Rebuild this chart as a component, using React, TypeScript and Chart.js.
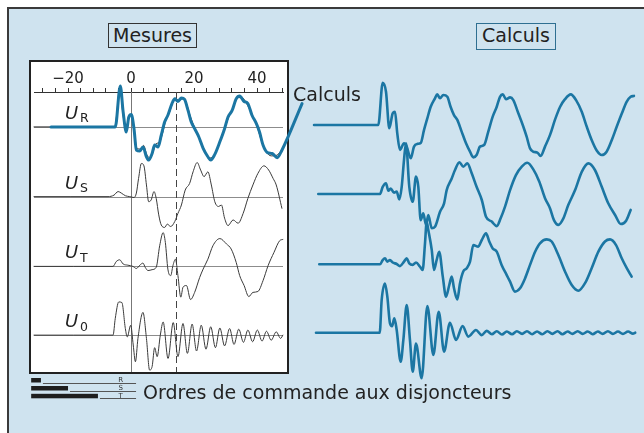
import React, { useEffect, useRef } from 'react';
import { Chart, registerables } from 'chart.js';

Chart.register(...registerables);

type Pt = [number, number];

// ---- axis / markers (ms) ----
const TICK_LABELS = [-20, 0, 20, 40];
const TICK_STEP = 4;
const MARKER_SOLID = 0;
const MARKER_DASHED = 14.4;
const PHASE_SUBS = ['R', 'S', 'T', '0'];

// ---- Mesures (left panel), time in ms, value in p.u. ----
const UR_MEAS: Pt[] = [[-30.8,0],[-5.2,0],[-3.5,1.3],[-2.6,0.45],[-1.6,-0.1],[-0.7,0.36],[0.2,0.38],[1.0,-0.1],[1.8,-0.7],[3.0,-0.74],[4.0,-0.62],[5.0,-0.93],[6.0,-1.04],[7.0,-0.84],[8.0,-0.56],[9.0,-0.52],[10.0,-0.22],[11.0,0.2],[12.2,0.48],[13.2,0.8],[14.2,0.96],[15.2,0.88],[16.3,0.94],[17.5,0.8],[19.0,0.3],[20.5,-0.1],[22.0,-0.45],[23.5,-0.82],[25.0,-1.04],[26.5,-0.95],[28.0,-0.55],[29.5,-0.12],[31.0,0.32],[32.5,0.66],[34.0,0.98],[35.5,0.96],[37.0,0.72],[38.5,0.4],[40.0,0.02],[41.5,-0.5],[43.0,-0.84],[44.5,-0.97],[46.0,-0.96],[47.5,-0.82],[48.2,-0.7]];
const UR_CALC_OVERLAY: Pt[] = [[-25.4,0],[-5.0,0],[-3.4,1.37],[-2.5,0.5],[-1.5,-0.17],[-0.7,0.33],[0.1,0.41],[0.95,-0.06],[1.7,-0.78],[2.75,-0.81],[3.8,-0.67],[4.9,-1.0],[5.6,-1.11],[6.7,-0.89],[7.5,-0.61],[8.6,-0.67],[9.6,-0.28],[10.7,0.17],[11.7,0.39],[13.0,0.78],[13.9,0.94],[14.9,0.85],[16.0,0.97],[17.0,0.92],[18.1,0.55],[19.1,0.17],[20.2,-0.06],[21.5,-0.33],[22.9,-0.72],[24.4,-1.0],[25.3,-1.11],[26.6,-0.92],[28.2,-0.5],[29.7,-0.06],[30.8,0.33],[32.1,0.55],[33.4,0.94],[34.5,1.03],[35.9,0.85],[37.1,0.78],[38.4,0.39],[39.8,0.11],[40.8,-0.17],[41.9,-0.61],[43.3,-0.86],[44.8,-0.89],[46.4,-1.03],[47.9,-0.78],[54.3,0.78]];
const US_MEAS: Pt[] = [[-30.8,0],[-7.3,0],[-5.4,0.05],[-4.1,0.17],[-3.1,0.12],[-1.8,0.03],[-0.4,0],[0.95,-0.03],[1.7,0.12],[2.4,0.61],[3.3,1.11],[4.1,1.03],[4.9,0.39],[5.6,-0.17],[6.4,-0.11],[7.3,0.17],[8.0,-0.06],[8.8,-0.61],[9.6,-0.95],[10.7,-1.03],[11.5,-0.92],[12.6,-1.0],[13.9,-0.83],[14.9,-0.56],[16.0,-0.28],[17.2,0.22],[18.6,0.44],[19.7,0.83],[21.0,1.14],[22.1,0.89],[23.2,0.67],[24.4,0.83],[25.5,0.39],[26.6,-0.17],[27.8,-0.33],[28.7,-0.28],[29.7,-0.72],[30.8,-0.97],[32.4,-0.78],[34.0,-0.89],[35.6,-0.56],[37.1,-0.06],[38.7,0.39],[40.3,0.78],[42.2,1.03],[43.7,0.89],[45.1,0.61],[46.1,0.39],[47.9,-0.39]];
const UT_MEAS: Pt[] = [[-30.8,0],[-5.7,0],[-4.7,0.16],[-3.6,0.22],[-2.5,0.08],[-1.0,0.04],[0.6,0],[1.7,-0.07],[2.8,0.04],[3.8,0.11],[4.5,-0.03],[5.4,-0.14],[6.7,-0.11],[8.0,-0.03],[9.1,0.69],[10.2,1.13],[10.9,0.8],[11.7,-0.09],[12.6,-0.31],[13.3,0.02],[14.1,0.24],[14.9,-0.31],[15.8,-1.03],[16.5,-0.7],[17.6,-0.64],[18.9,-1.11],[20.2,-0.87],[21.8,-0.37],[22.9,-0.09],[24.4,0.24],[26.0,0.69],[28.2,0.93],[30.3,0.75],[31.8,0.58],[33.4,0.13],[34.5,-0.31],[35.9,-0.64],[37.4,-1.01],[38.7,-0.87],[40.3,-0.84],[41.9,-0.48],[43.5,0.02],[45.4,0.47],[47.2,0.86],[48.2,0.9]];
const U0_MEAS: Pt[] = [[-30.8,0],[-5.7,0],[-5.0,0.56],[-3.9,1.11],[-2.9,1.09],[-1.8,0.22],[-1.2,-0.06],[-0.1,0.33],[0.7,-0.33],[1.4,-0.89],[2.2,-0.11],[3.8,0.76],[4.9,-0.11],[5.9,-1.17],[6.7,-1.05],[7.5,-0.42],[8.3,-0.72],[9.3,0],[10.2,0.44],[11.75,-0.78],[13.4,0.42],[14.9,-0.72],[16.5,0.39],[17.9,-0.61],[19.4,0.37],[20.8,-0.53],[22.3,0.33],[23.8,-0.47],[25.3,0.28],[26.8,-0.42],[28.2,0.24],[29.7,-0.36],[31.3,0.22],[32.7,-0.31],[34.2,0.2],[35.7,-0.24],[37.1,0.17],[38.6,-0.22],[40.1,0.17],[41.6,-0.2],[43.0,0.13],[44.5,-0.17],[46.1,0.11],[47.5,-0.11],[48.2,0]];

// ---- Calculs (right panel) ----
const UR_CALC: Pt[] = [[-24.5,0],[-4.74,0],[-3.38,1.41],[-2.37,1.11],[-1.35,-0.11],[-0.31,0.39],[0.4,0.44],[1.1,-0.28],[1.94,-0.83],[3.17,-0.61],[4.0,-0.72],[5.23,-1.11],[6.25,-0.72],[7.26,-0.63],[8.31,-0.6],[9.32,-0.17],[10.34,0.22],[11.38,0.61],[12.7,0.89],[13.4,1.02],[14.25,0.89],[15.26,1.0],[16.5,0.94],[17.5,0.61],[18.55,0.33],[19.57,0.17],[20.9,-0.22],[22.25,-0.61],[23.48,-0.89],[24.5,-1.08],[25.5,-1.0],[26.55,-0.72],[27.8,-0.67],[29.1,-0.22],[30.46,0.28],[31.7,0.61],[32.7,0.94],[33.54,1.02],[34.55,0.86],[35.8,0.92],[36.8,0.83],[38.34,0.39],[39.7,0],[40.9,-0.39],[41.94,-0.78],[42.95,-0.89],[44.2,-0.92],[45.2,-1.03],[46.55,-0.72],[48.1,-0.33],[49.6,0.17],[51.2,0.61],[52.7,0.86],[54.46,1.02],[56.1,0.83],[57.85,0.44],[59.4,-0.06],[60.9,-0.5],[62.5,-0.86],[64.0,-1.0],[65.5,-0.89],[67.1,-0.5],[68.6,-0.06],[70.2,0.39],[71.7,0.78],[72.9,0.94],[73.9,0.97]];
const US_CALC: Pt[] = [[-23.2,0],[-4.2,0],[-3.38,0.24],[-2.37,0.36],[-1.66,0.11],[-0.92,0.18],[0.09,0.04],[0.92,0.08],[1.72,-0.18],[2.46,0.24],[3.17,1.13],[3.78,1.69],[4.8,0.24],[5.85,-0.26],[6.86,0.58],[7.57,0.24],[8.3,-0.87],[9.1,-0.64],[9.94,-1.03],[10.65,-0.7],[11.7,-1.14],[12.7,-1.09],[14.25,-0.59],[15.5,-0.31],[16.3,0.13],[17.85,0.52],[18.86,0.8],[20.2,1.06],[21.4,0.91],[22.65,1.02],[24.0,0.69],[25.5,0.24],[27.1,-0.2],[28.4,-0.76],[30.15,-0.92],[31.7,-1.07],[32.9,-0.81],[34.25,-0.42],[35.8,0.13],[37.6,0.63],[39.4,0.91],[41.1,1.04],[42.95,0.82],[44.8,0.41],[46.55,-0.14],[48.1,-0.48],[49.3,-0.87],[50.65,-1.03],[52.2,-0.81],[53.7,-0.37],[55.8,0.13],[57.85,0.74],[59.9,1.02],[61.9,0.8],[64.0,0.24],[66.0,-0.31],[68.1,-0.7],[69.85,-1.0],[71.5,-0.89],[72.9,-0.53]];
const UT_CALC: Pt[] = [[-22.9,0],[-4.2,0],[-3.38,0.14],[-2.68,0.2],[-1.96,0.09],[-1.14,0.14],[-0.31,0.06],[0.92,0.01],[1.94,-0.06],[3.17,0.09],[4.0,0.2],[4.8,0.03],[5.85,-0.02],[6.86,0.06],[8.1,-0.08],[8.9,-0.19],[9.63,0.7],[10.15,1.42],[10.65,1.14],[11.7,0.48],[12.4,-0.19],[13.2,0.14],[14.0,0.42],[15.1,-0.41],[16.1,-1.08],[17.1,-0.69],[17.85,-0.41],[18.55,-0.8],[19.57,-1.17],[20.4,-0.63],[21.4,-0.24],[22.45,-0.13],[23.48,0.09],[24.5,0.64],[26.0,0.59],[27.1,0.81],[28.4,1.03],[29.4,0.76],[30.46,0.53],[31.7,0.42],[33.2,-0.02],[34.77,-0.36],[35.8,-0.58],[37.3,-0.91],[38.86,-0.8],[40.4,-0.47],[41.94,-0.02],[43.5,0.42],[45.0,0.7],[47.1,0.83],[48.6,0.76],[50.65,0.31],[52.7,-0.24],[54.77,-0.69],[56.8,-0.88],[58.86,-0.63],[60.9,-0.13],[62.96,0.42],[65.0,0.76],[66.55,0.83],[68.4,0.64],[70.15,0.2],[71.7,-0.13],[73.2,-0.41]];
const U0_CALC: Pt[] = [[-23.9,0],[-4.3,0],[-3.7,1.09],[-2.68,1.64],[-1.96,1.2],[-1.14,0.31],[-0.5,0.22],[0.19,0.48],[0.92,0.09],[2.15,-0.97],[2.97,-0.24],[4.0,0.92],[5.0,-0.24],[5.85,-1.3],[6.86,-0.36],[8.6,-1.52],[10.35,0.89],[12.2,-0.74],[13.85,0.7],[15.5,-0.63],[17.3,0.33],[19.17,-0.24],[21.2,0.22],[22.95,-0.13],[25.3,0.09],[27.05,-0.08],[28.6,0.06],[30.2,-0.05],[31.7,0.05],[33.3,-0.06],[34.8,0.04],[36.4,-0.05],[37.9,0.05],[39.5,-0.04],[41.0,0.05],[42.6,-0.05],[44.1,0.04],[45.7,-0.05],[47.3,0.05],[48.8,-0.04],[50.4,0.05],[51.9,-0.05],[53.5,0.04],[55.0,-0.04],[56.6,0.05],[58.1,-0.04],[59.7,0.04],[61.2,-0.05],[62.8,0.04],[64.3,-0.04],[65.9,0.05],[67.4,-0.04],[69.0,0.04],[70.5,-0.04],[72.1,0.04],[73.6,-0.03],[74.3,0]];

// ---- command orders legend (ms) ----
const ORDER_PHASES = ['R', 'S', 'T'];
const ORDER_START = -31.7;
const ORDER_END = [-28.6, -20, -10.5];
const ORDER_LINE_END = 1.6;
const ORDER_LABEL_AT = -3.3;

// ---- styles / layout ----
const BLUE = '#1b76a3';
const INK = '#222';
const THIN = '#3a3a3a';
const FONT = "'DejaVu Sans', sans-serif";
const PU_PX = 30;
const LEFT = { x: 30, y: 61, w: 280, h: 345, pad: { left: 4, right: 27, top: 10, bottom: 35 }, areaH: 280, tMin: -30.8, tMax: 48.25, base: [35, 105, 175, 244] };
const RIGHT = { x: 290, y: 60, w: 354, h: 340, areaH: 340, tMin: -31.9, tMax: 77.0, base: [65, 134, 204.3, 272.7] };

function yScales(base: number[], areaH: number) {
  const s: Record<string, any> = {};
  base.forEach((b, i) => {
    const max = b / PU_PX;
    s['y' + i] = { type: 'linear', display: false, min: max - areaH / PU_PX, max };
  });
  return s;
}

function ds(data: Pt[], i: number, color: string, width: number) {
  return {
    data: data.map(([x, y]) => ({ x, y })),
    xAxisID: 'x',
    yAxisID: 'y' + i,
    borderColor: color,
    borderWidth: width,
    pointRadius: 0,
    fill: false,
    cubicInterpolationMode: 'monotone',
    clip: false,
    borderJoinStyle: 'round',
    borderCapStyle: 'round',
  };
}

const leftDeco = {
  id: 'leftDeco',
  beforeDatasetsDraw(chart: any) {
    const { ctx, chartArea: a, scales } = chart;
    const x = scales.x;
    ctx.save();
    ctx.lineWidth = 1;
    ctx.strokeStyle = '#8c8c8c';
    PHASE_SUBS.forEach((_, i) => {
      const y = Math.round(scales['y' + i].getPixelForValue(0)) + 0.5;
      ctx.beginPath(); ctx.moveTo(a.left, y); ctx.lineTo(a.right, y); ctx.stroke();
    });
    const xs = Math.round(x.getPixelForValue(MARKER_SOLID)) + 0.5;
    ctx.strokeStyle = '#777';
    ctx.beginPath(); ctx.moveTo(xs, a.top); ctx.lineTo(xs, a.bottom + 1); ctx.stroke();
    const xd = Math.round(x.getPixelForValue(MARKER_DASHED)) + 0.5;
    ctx.strokeStyle = '#444';
    ctx.setLineDash([7, 4]);
    ctx.beginPath(); ctx.moveTo(xd, a.top); ctx.lineTo(xd, a.bottom + 1); ctx.stroke();
    ctx.setLineDash([]);
    // phase labels
    ctx.fillStyle = INK;
    ctx.textBaseline = 'alphabetic';
    PHASE_SUBS.forEach((sub, i) => {
      const y = scales['y' + i].getPixelForValue(0);
      ctx.font = `italic 18px ${FONT}`;
      ctx.fillText('U', a.left + 31, y - 8);
      ctx.font = `12.5px ${FONT}`;
      ctx.fillText(sub, a.left + 46, y - 4.5);
    });
    ctx.restore();
  },
  afterDraw(chart: any) {
    const { ctx, chartArea: a, scales } = chart;
    const x = scales.x;
    const rows = [11.5, 19.5, 27.3];
    ctx.save();
    ORDER_PHASES.forEach((ph, i) => {
      const yb = a.bottom + rows[i];
      const x0 = x.getPixelForValue(ORDER_START);
      const x1 = x.getPixelForValue(ORDER_END[i]);
      ctx.fillStyle = '#1e1e1e';
      ctx.fillRect(x0, yb - 4.5, x1 - x0, 4.5);
      ctx.strokeStyle = '#555';
      ctx.lineWidth = 1;
      ctx.beginPath();
      ctx.moveTo(x1 + 2, Math.round(yb) + 0.5);
      ctx.lineTo(x.getPixelForValue(ORDER_LINE_END), Math.round(yb) + 0.5);
      ctx.stroke();
      ctx.fillStyle = '#333';
      ctx.font = `7px ${FONT}`;
      ctx.textAlign = 'center';
      ctx.textBaseline = 'alphabetic';
      ctx.fillText(ph, x.getPixelForValue(ORDER_LABEL_AT), yb - 0.5);
    });
    ctx.restore();
  },
};

export default function App() {
  const leftRef = useRef<HTMLCanvasElement>(null);
  const rightRef = useRef<HTMLCanvasElement>(null);

  useEffect(() => {
    const left = new Chart(leftRef.current as HTMLCanvasElement, {
      type: 'line',
      data: {
        datasets: [
          ds(UR_CALC_OVERLAY, 0, BLUE, 3),
          ds(UR_MEAS, 0, THIN, 1),
          ds(US_MEAS, 1, THIN, 1),
          ds(UT_MEAS, 2, THIN, 1),
          ds(U0_MEAS, 3, THIN, 1),
        ] as any,
      },
      options: {
        animation: false,
        responsive: false,
        devicePixelRatio: 1,
        events: [],
        layout: { padding: LEFT.pad },
        elements: { line: { capBezierPoints: false } as any, point: { radius: 0 } },
        plugins: { legend: { display: false }, tooltip: { enabled: false } },
        scales: {
          x: {
            type: 'linear',
            position: 'top',
            min: LEFT.tMin,
            max: LEFT.tMax,
            grid: { display: true, drawOnChartArea: false, drawTicks: true, tickLength: 4, color: '#333', lineWidth: 1 },
            border: { display: true, color: '#333', width: 1 },
            ticks: {
              stepSize: TICK_STEP,
              includeBounds: false,
              autoSkip: false,
              maxRotation: 0,
              minRotation: 0,
              padding: 1,
              color: INK,
              font: { family: FONT, size: 15, lineHeight: 1 },
              callback: (v: any) => {
                const r = Math.round(Number(v));
                if (!TICK_LABELS.includes(r)) return '';
                return r < 0 ? '\u2212' + Math.abs(r) : String(r);
              },
            },
          },
          ...yScales(LEFT.base, LEFT.areaH),
        } as any,
      },
      plugins: [leftDeco],
    });

    const right = new Chart(rightRef.current as HTMLCanvasElement, {
      type: 'line',
      data: {
        datasets: [
          ds(UR_CALC, 0, BLUE, 2.6),
          ds(US_CALC, 1, BLUE, 2.6),
          ds(UT_CALC, 2, BLUE, 2.6),
          ds(U0_CALC, 3, BLUE, 2.6),
        ] as any,
      },
      options: {
        animation: false,
        responsive: false,
        devicePixelRatio: 1,
        events: [],
        layout: { padding: 0 },
        elements: { line: { capBezierPoints: false } as any, point: { radius: 0 } },
        plugins: { legend: { display: false }, tooltip: { enabled: false } },
        scales: {
          x: { type: 'linear', display: false, min: RIGHT.tMin, max: RIGHT.tMax },
          ...yScales(RIGHT.base, RIGHT.areaH),
        } as any,
      },
    });

    return () => {
      left.destroy();
      right.destroy();
    };
  }, []);

  const text = (content: string, left: number, baseline: number, width?: number) => (
    <div
      style={{
        position: 'absolute',
        left,
        top: baseline - 16.07,
        width,
        textAlign: width ? 'center' : 'left',
        fontFamily: FONT,
        fontSize: 19,
        lineHeight: '19px',
        color: INK,
        whiteSpace: 'nowrap',
      }}
    >
      {content}
    </div>
  );

  return (
    <div style={{ position: 'absolute', left: 0, top: 0, width: 644, height: 433, overflow: 'hidden', background: '#fff' }}>
      <div
        style={{
          position: 'absolute', left: 7, top: 7, width: 637, height: 426, boxSizing: 'border-box',
          borderTop: '2px solid #3a3a3a', borderLeft: '2px solid #3a3a3a', background: '#cfe3ef',
        }}
      />
      <div
        style={{
          position: 'absolute', left: 29, top: 60, width: 260, height: 314, boxSizing: 'border-box',
          border: '2px solid #222', background: '#fff',
        }}
      />
      <div style={{ position: 'absolute', left: 108, top: 23, width: 89, height: 25, boxSizing: 'border-box', border: '1.5px solid #333' }} />
      <div style={{ position: 'absolute', left: 476, top: 23, width: 80, height: 27, boxSizing: 'border-box', border: '1.5px solid #2e6f91' }} />
      {text('Mesures', 108, 41.7, 89)}
      {text('Calculs', 476, 41.7, 80)}
      <canvas ref={leftRef} width={LEFT.w} height={LEFT.h} style={{ position: 'absolute', left: LEFT.x, top: LEFT.y, width: LEFT.w, height: LEFT.h }} />
      <canvas ref={rightRef} width={RIGHT.w} height={RIGHT.h} style={{ position: 'absolute', left: RIGHT.x, top: RIGHT.y, width: RIGHT.w, height: RIGHT.h }} />
      {text('Calculs', 293, 101)}
      {text('Ordres de commande aux disjoncteurs', 143, 399)}
    </div>
  );
}
